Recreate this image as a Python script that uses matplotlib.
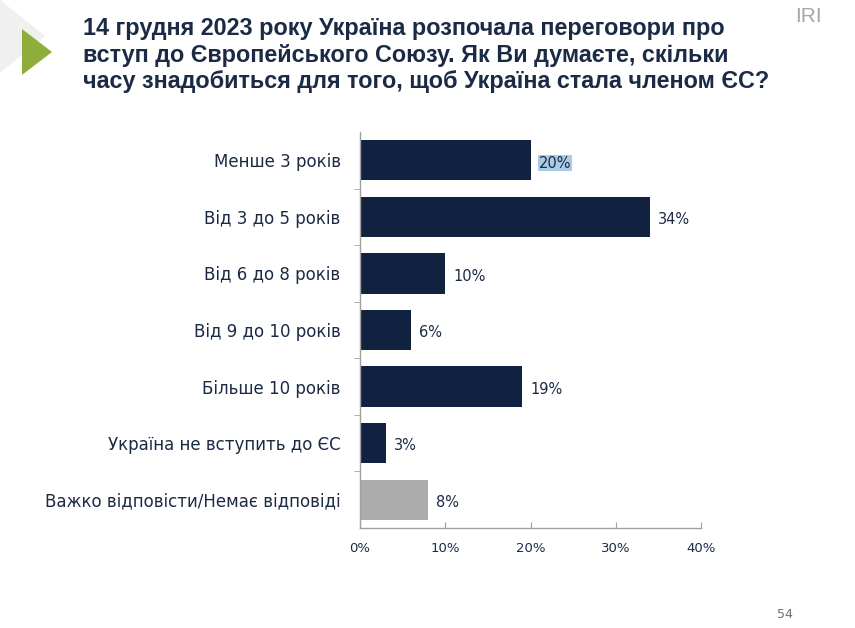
import matplotlib.pyplot as plt
from matplotlib.patches import Polygon

categories = [
    'Менше 3 років',
    'Від 3 до 5 років',
    'Від 6 до 8 років',
    'Від 9 до 10 років',
    'Більше 10 років',
    'Україна не вступить до ЄС',
    'Важко відповісти/Немає відповіді',
]
values = [20, 34, 10, 6, 19, 3, 8]
value_labels = ['20%', '34%', '10%', '6%', '19%', '3%', '8%']
x_ticks = [0, 10, 20, 30, 40]
x_tick_labels = ['0%', '10%', '20%', '30%', '40%']

title = ('14 грудня 2023 року Україна розпочала переговори про\n'
         'вступ до Європейського Союзу. Як Ви думаєте, скільки\n'
         'часу знадобиться для того, щоб Україна стала членом ЄС?')

navy = '#10223f'
text_col = '#1b2a45'

fig = plt.figure(figsize=(8.55, 6.28), dpi=100)
ax = fig.add_axes([360 / 855, 1 - 528 / 628, 341 / 855, 396 / 628])

colors = [navy] * 6 + ['#ababab']
ypos = list(range(len(categories)))
ax.barh(ypos, values, height=0.71, color=colors)
ax.set_ylim(len(categories) - 0.5, -0.5)
ax.set_xlim(0, 40)

for y, v, lab in zip(ypos, values, value_labels):
    t = ax.text(v + 0.95, y + 0.05, lab, va='center', ha='left',
                fontsize=10.5, color=text_col)
    if y == 0:
        t.set_bbox(dict(facecolor='#a9cbe6', edgecolor='none', pad=0.5))

ax.set_yticks(ypos)
ax.set_yticklabels(categories, fontsize=12, color=text_col)
ax.set_yticks([y + 0.5 for y in ypos[:-1]], minor=True)
ax.tick_params(axis='y', which='major', length=0, pad=14)
ax.tick_params(axis='y', which='minor', length=4, color='#a0a0a0', direction='out')
ax.set_xticks(x_ticks)
ax.set_xticklabels(x_tick_labels, fontsize=9.5, color=text_col)
ax.tick_params(axis='x', length=4, color='#a0a0a0', direction='in', pad=10)

for s in ['top', 'right']:
    ax.spines[s].set_visible(False)
for s in ['left', 'bottom']:
    ax.spines[s].set_color('#a0a0a0')
    ax.spines[s].set_linewidth(1.0)

# decorations
fig.patches.append(Polygon([(0, 1), (45 / 855, 1 - 36 / 628), (0, 1 - 73 / 628)],
                           closed=True, transform=fig.transFigure,
                           facecolor='#f0f0f0', edgecolor='none'))
fig.patches.append(Polygon([(22 / 855, 1 - 29 / 628), (52 / 855, 1 - 52 / 628),
                            (22 / 855, 1 - 75 / 628)],
                           closed=True, transform=fig.transFigure,
                           facecolor='#8fad3a', edgecolor='none'))

fig.text(83 / 855, 1 - 17 / 628, title, ha='left', va='top', fontsize=16.8,
         fontweight='bold', color=text_col, family='Liberation Sans',
         linespacing=1.2)
fig.text(795 / 855, 1 - 7 / 628, 'IRI', ha='left', va='top', fontsize=15,
         color='#a6a6a6', family='Liberation Sans')
fig.text(777 / 855, 1 - 614 / 628, '54', ha='left', va='center', fontsize=9,
         color='#707070')

fig.savefig('out.png', dpi=100)
